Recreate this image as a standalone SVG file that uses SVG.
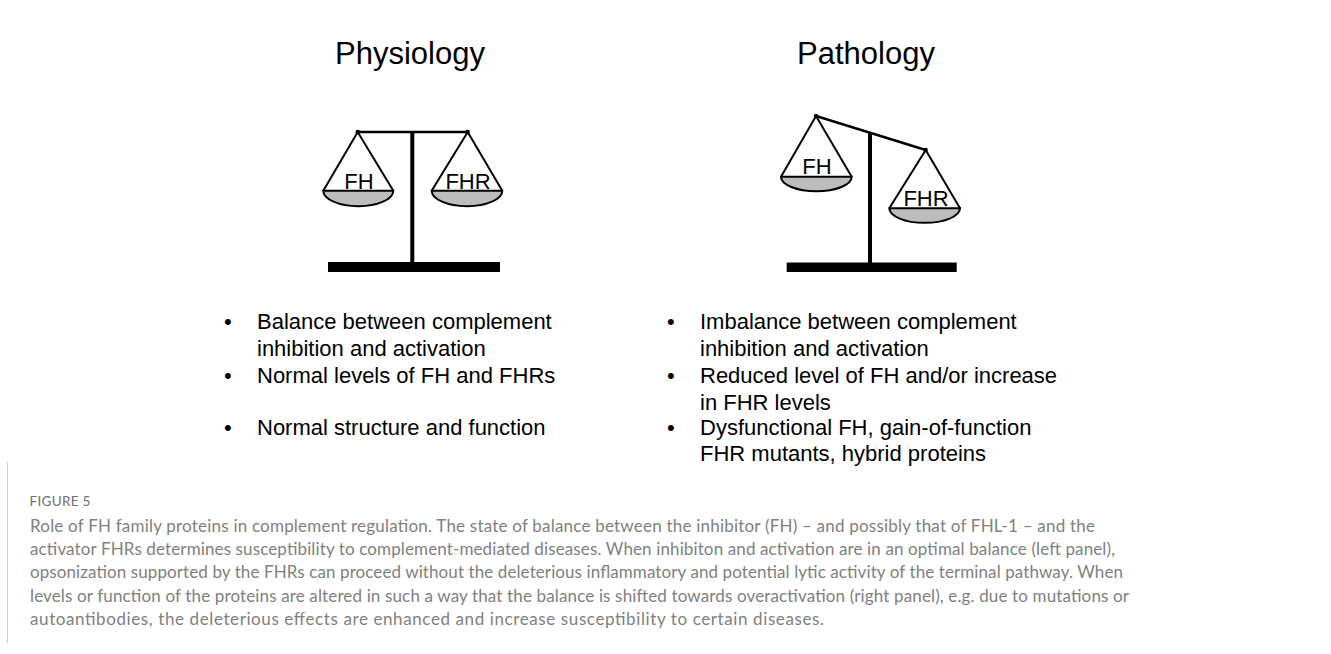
<svg xmlns="http://www.w3.org/2000/svg" width="1331" height="654" viewBox="0 0 1331 654">
  <style>
    .title { font-family: "Liberation Sans", Arial, sans-serif; font-size: 31px; fill: #000; text-anchor: middle; }
    .pan-label { font-family: "Liberation Sans", Arial, sans-serif; font-size: 22px; fill: #000; text-anchor: middle; }
    .bullet { font-family: "Liberation Sans", Arial, sans-serif; font-size: 22px; fill: #000; }
    .cord { stroke: #000; stroke-width: 2; fill: none; stroke-linejoin: round; }
    .bowl { fill: #bdbdbd; stroke: #000; stroke-width: 2; }
    .beam { stroke: #000; stroke-width: 2.5; }
    .cap-head { font-family: Lato, "Open Sans", sans-serif; font-size: 13.5px; fill: #707070; letter-spacing: 0.3px; }
    .cap { font-family: Lato, "Open Sans", sans-serif; font-size: 17px; fill: #808080; }
  </style>

  <!-- Physiology: balanced scale -->
  <g id="physiology">
    <text class="title" x="410" y="64">Physiology</text>
    <g id="phys-scale">
      <rect x="410.3" y="132" width="4" height="132" fill="#000"/>
      <rect x="328" y="262" width="172" height="10" fill="#000"/>
      <line class="beam" x1="357.7" y1="132" x2="467.7" y2="132"/>
      <circle cx="357.7" cy="132" r="2.2" fill="#000"/>
      <circle cx="467.7" cy="132" r="2.2" fill="#000"/>
    </g>
    <g id="phys-pan-fh">
      <path class="bowl" d="M323.3,190.7 A35,15.5 0 0 0 393.3,190.7 Z"/>
      <path class="cord" d="M323.3,190.7 L357.7,132 L393.3,190.7"/>
      <text class="pan-label" x="359" y="189">FH</text>
    </g>
    <g id="phys-pan-fhr">
      <path class="bowl" d="M431.7,190.7 A35.3,15.5 0 0 0 502.3,190.7 Z"/>
      <path class="cord" d="M431.7,190.7 L467.7,132 L502.3,190.7"/>
      <text class="pan-label" x="468" y="189">FHR</text>
    </g>
    <g id="phys-points" class="bullet">
      <text x="224" y="329">•</text>
      <text x="257" y="329">Balance between complement</text>
      <text x="257" y="356">inhibition and activation</text>
      <text x="224" y="383">•</text>
      <text x="257" y="383">Normal levels of FH and FHRs</text>
      <text x="224" y="435">•</text>
      <text x="257" y="435">Normal structure and function</text>
    </g>
  </g>

  <!-- Pathology: tilted scale -->
  <g id="pathology">
    <text class="title" x="866" y="64">Pathology</text>
    <g id="path-scale">
      <rect x="868" y="133" width="4" height="131" fill="#000"/>
      <rect x="786.7" y="262.5" width="170" height="9.5" fill="#000"/>
      <line class="beam" x1="816" y1="116" x2="925.7" y2="150"/>
      <circle cx="816" cy="116" r="2.2" fill="#000"/>
      <circle cx="925.7" cy="150" r="2.2" fill="#000"/>
    </g>
    <g id="path-pan-fh">
      <path class="bowl" d="M781,176.7 A35.3,14.5 0 0 0 851.7,176.7 Z"/>
      <path class="cord" d="M781,176.7 L816,116 L851.7,176.7"/>
      <text class="pan-label" x="817" y="174">FH</text>
    </g>
    <g id="path-pan-fhr">
      <path class="bowl" d="M889.3,208.3 A35.3,14.5 0 0 0 960,208.3 Z"/>
      <path class="cord" d="M889.3,208.3 L925.7,150 L960,208.3"/>
      <text class="pan-label" x="926" y="206">FHR</text>
    </g>
    <g id="path-points" class="bullet">
      <text x="667" y="329">•</text>
      <text x="700" y="329">Imbalance between complement</text>
      <text x="700" y="356">inhibition and activation</text>
      <text x="667" y="383">•</text>
      <text x="700" y="383">Reduced level of FH and/or increase</text>
      <text x="700" y="410">in FHR levels</text>
      <text x="667" y="435">•</text>
      <text x="700" y="435">Dysfunctional FH, gain-of-function</text>
      <text x="700" y="461">FHR mutants, hybrid proteins</text>
    </g>
  </g>

  <!-- Caption block -->
  <g id="caption">
    <line x1="7.5" y1="462" x2="7.5" y2="643" stroke="#cfcfcf" stroke-width="1"/>
    <text class="cap-head" x="29.5" y="505.5">FIGURE 5</text>
    <text class="cap" x="30" y="531.5" textLength="1065">Role of FH family proteins in complement regulation. The state of balance between the inhibitor (FH) – and possibly that of FHL-1 – and the</text>
    <text class="cap" x="30" y="555" textLength="1085">activator FHRs determines susceptibility to complement-mediated diseases. When inhibiton and activation are in an optimal balance (left panel),</text>
    <text class="cap" x="30" y="578.3" textLength="1093">opsonization supported by the FHRs can proceed without the deleterious inflammatory and potential lytic activity of the terminal pathway. When</text>
    <text class="cap" x="30" y="601.7" textLength="1099">levels or function of the proteins are altered in such a way that the balance is shifted towards overactivation (right panel), e.g. due to mutations or</text>
    <text class="cap" x="30" y="625" textLength="794">autoantibodies, the deleterious effects are enhanced and increase susceptibility to certain diseases.</text>
  </g>
</svg>
